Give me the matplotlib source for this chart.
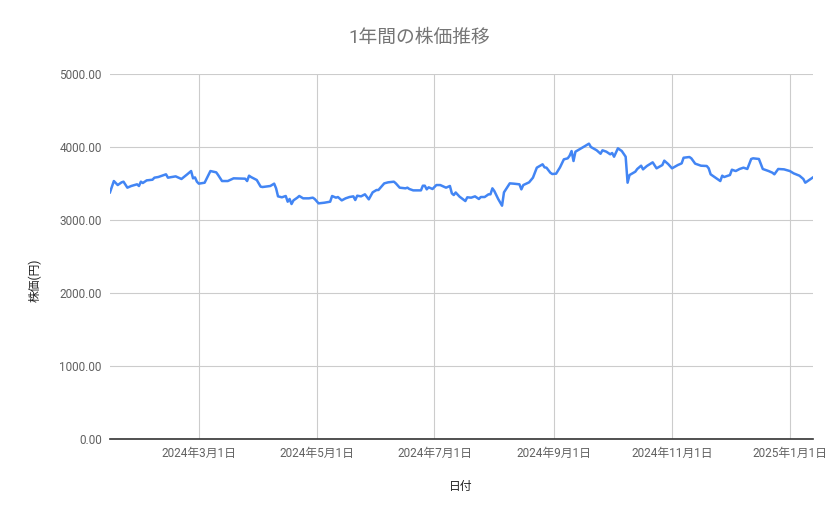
import matplotlib
matplotlib.use('Agg')
import matplotlib.pyplot as plt
import pandas as pd

plt.rcParams['font.family'] = ['Roboto', 'Noto Sans CJK JP', 'DejaVu Sans']

title = '1年間の株価推移'
x_label = '日付'
y_label = '株価(円)'

dates = [
    '2024-01-15', '2024-01-17', '2024-01-19', '2024-01-21', '2024-01-22', '2024-01-24',
    '2024-01-26', '2024-01-29', '2024-01-30', '2024-01-31', '2024-02-01', '2024-02-03',
    '2024-02-06', '2024-02-07', '2024-02-09', '2024-02-11', '2024-02-13', '2024-02-14',
    '2024-02-18', '2024-02-21', '2024-02-24', '2024-02-26', '2024-02-27', '2024-02-28',
    '2024-02-29', '2024-03-01', '2024-03-04', '2024-03-07', '2024-03-10', '2024-03-11',
    '2024-03-13', '2024-03-16', '2024-03-19', '2024-03-25', '2024-03-26', '2024-03-27',
    '2024-03-28', '2024-03-31', '2024-04-02', '2024-04-03', '2024-04-07', '2024-04-09',
    '2024-04-10', '2024-04-11', '2024-04-13', '2024-04-15', '2024-04-16', '2024-04-17',
    '2024-04-18', '2024-04-19', '2024-04-21', '2024-04-22', '2024-04-24', '2024-04-27',
    '2024-04-29', '2024-04-30', '2024-05-02', '2024-05-05', '2024-05-08', '2024-05-09',
    '2024-05-11', '2024-05-12', '2024-05-14', '2024-05-16', '2024-05-18', '2024-05-20',
    '2024-05-21', '2024-05-22', '2024-05-24', '2024-05-26', '2024-05-28', '2024-05-30',
    '2024-06-01', '2024-06-02', '2024-06-05', '2024-06-07', '2024-06-10', '2024-06-11',
    '2024-06-13', '2024-06-16', '2024-06-17', '2024-06-18', '2024-06-20', '2024-06-24',
    '2024-06-25', '2024-06-26', '2024-06-27', '2024-06-28', '2024-06-30', '2024-07-02',
    '2024-07-04', '2024-07-07', '2024-07-09', '2024-07-10', '2024-07-11', '2024-07-12',
    '2024-07-14', '2024-07-17', '2024-07-18', '2024-07-20', '2024-07-22', '2024-07-24',
    '2024-07-25', '2024-07-27', '2024-07-29', '2024-07-30', '2024-07-31', '2024-08-01',
    '2024-08-03', '2024-08-05', '2024-08-06', '2024-08-09', '2024-08-11', '2024-08-14',
    '2024-08-15', '2024-08-16', '2024-08-19', '2024-08-21', '2024-08-23', '2024-08-26',
    '2024-08-27', '2024-08-28', '2024-08-30', '2024-08-31', '2024-09-02', '2024-09-04',
    '2024-09-06', '2024-09-08', '2024-09-09', '2024-09-10', '2024-09-11', '2024-09-12',
    '2024-09-15', '2024-09-17', '2024-09-19', '2024-09-20', '2024-09-23', '2024-09-25',
    '2024-09-26', '2024-09-28', '2024-09-30', '2024-10-01', '2024-10-02', '2024-10-04',
    '2024-10-06', '2024-10-08', '2024-10-09', '2024-10-10', '2024-10-13', '2024-10-14',
    '2024-10-16', '2024-10-17', '2024-10-19', '2024-10-22', '2024-10-24', '2024-10-27',
    '2024-10-28', '2024-10-30', '2024-11-01', '2024-11-04', '2024-11-06', '2024-11-07',
    '2024-11-10', '2024-11-11', '2024-11-13', '2024-11-16', '2024-11-19', '2024-11-20',
    '2024-11-21', '2024-11-23', '2024-11-25', '2024-11-26', '2024-11-27', '2024-11-28',
    '2024-12-01', '2024-12-02', '2024-12-04', '2024-12-06', '2024-12-08', '2024-12-10',
    '2024-12-12', '2024-12-13', '2024-12-16', '2024-12-18', '2024-12-21', '2024-12-23',
    '2024-12-24', '2024-12-26', '2024-12-29', '2025-01-01', '2025-01-03', '2025-01-06',
    '2025-01-08', '2025-01-09', '2025-01-11', '2025-01-13',
]

prices = [
    3379, 3534, 3479, 3516, 3525, 3443,
    3466, 3489, 3466, 3525, 3507, 3543,
    3552, 3580, 3589, 3607, 3626, 3580,
    3598, 3562, 3626, 3671, 3571, 3584,
    3525, 3498, 3511, 3671, 3653, 3616,
    3534, 3534, 3571, 3566, 3534, 3607,
    3589, 3548, 3457, 3452, 3466, 3498,
    3434, 3324, 3311, 3329, 3251, 3288,
    3219, 3269, 3306, 3329, 3297, 3297,
    3306, 3288, 3228, 3237, 3251, 3329,
    3306, 3315, 3269, 3297, 3315, 3324,
    3274, 3333, 3324, 3352, 3283, 3379,
    3411, 3411, 3502, 3516, 3525, 3502,
    3443, 3434, 3443, 3425, 3406, 3406,
    3470, 3470, 3420, 3448, 3425, 3479,
    3479, 3443, 3466, 3366, 3342, 3377,
    3320, 3260, 3311, 3306, 3324, 3288,
    3315, 3315, 3352, 3352, 3434, 3397,
    3288, 3196, 3379, 3502, 3498, 3489,
    3420, 3479, 3516, 3580, 3717, 3763,
    3721, 3717, 3648, 3630, 3635, 3721,
    3831, 3845, 3881, 3945, 3808, 3936,
    3982, 4014, 4046, 4000, 3955, 3908,
    3955, 3936, 3900, 3918, 3867, 3982,
    3945, 3867, 3511, 3616, 3662, 3699,
    3744, 3694, 3740, 3790, 3708, 3753,
    3813, 3767, 3708, 3753, 3776, 3853,
    3863, 3845, 3772, 3744, 3740, 3708,
    3626, 3589, 3552, 3534, 3607, 3589,
    3616, 3689, 3671, 3699, 3717, 3699,
    3836, 3845, 3836, 3699, 3671, 3648,
    3626, 3699, 3694, 3671, 3639, 3607,
    3562, 3511, 3548, 3584,
]

tick_dates = ['2024-03-01', '2024-05-01', '2024-07-01', '2024-09-01', '2024-11-01', '2025-01-01']
tick_labels = ['2024年3月1日', '2024年5月1日', '2024年7月1日', '2024年9月1日', '2024年11月1日', '2025年1月1日']
y_ticks = [0, 1000, 2000, 3000, 4000, 5000]

x = pd.to_datetime(dates)

fig = plt.figure(figsize=(8.39, 5.19), dpi=100)
ax = fig.add_axes([0.1311, 0.1541, 0.8379, 0.7033])

ax.plot(x, prices, color='#4285f4', linewidth=1.8, solid_joinstyle='round', zorder=3)

ax.set_xlim(x[0], x[-1])
ax.set_ylim(0, 5000)
ax.set_yticks(y_ticks)
ax.set_yticklabels([f'{v:.2f}' for v in y_ticks])
ax.set_xticks(pd.to_datetime(tick_dates))
ax.set_xticklabels(tick_labels)

ax.grid(True, color='#cccccc', linewidth=0.8)
ax.set_axisbelow(True)
ax.tick_params(length=0, labelsize=8.5, colors='#616161', pad=6)
for side in ['top', 'right', 'left']:
    ax.spines[side].set_visible(False)
ax.spines['bottom'].set_color('#333333')
ax.spines['bottom'].set_linewidth(1.2)
ax.spines['bottom'].set_zorder(4)

fig.text(0.5, 0.926, title, ha='center', va='center', fontsize=13.5, color='#757575')
fig.text(0.549, 0.062, x_label, ha='center', va='center', fontsize=8.5, color='#222222')
fig.text(0.042, 0.46, y_label, ha='center', va='center', rotation=90, fontsize=8.5, color='#222222')

fig.savefig('out.png', dpi=100)
